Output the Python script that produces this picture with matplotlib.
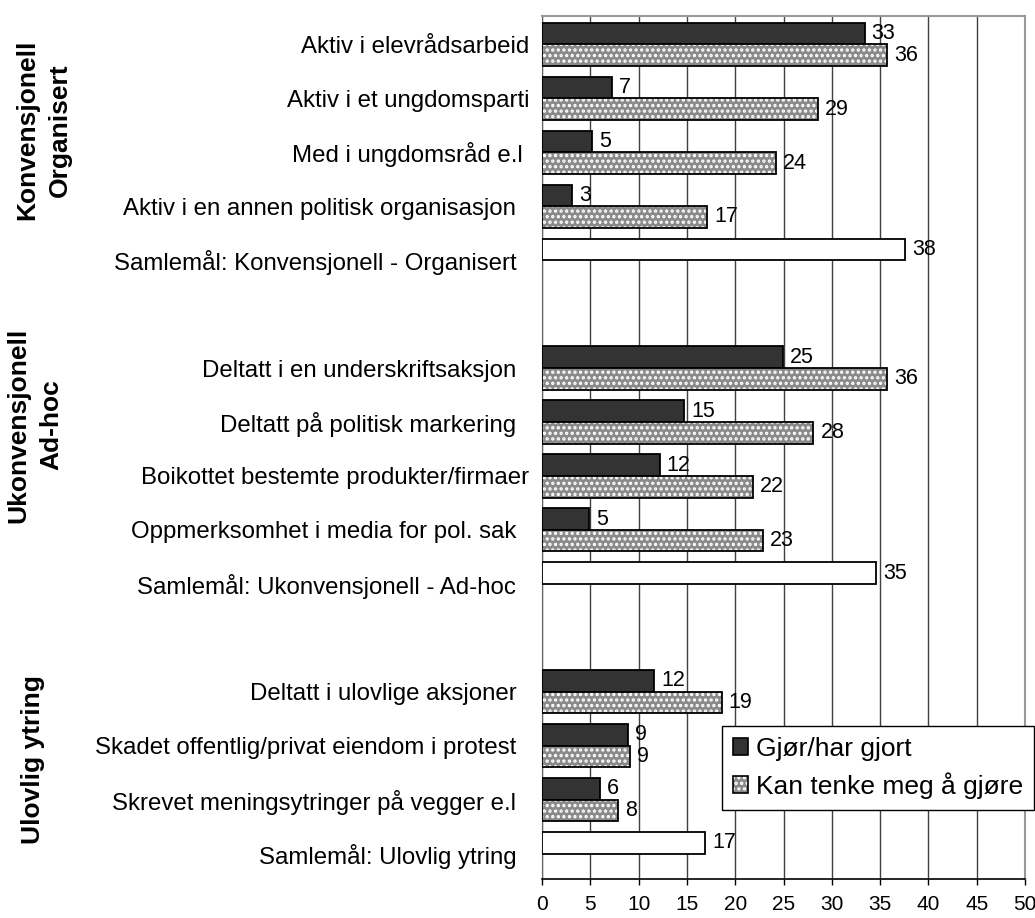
import numpy as np
import matplotlib.pyplot as plt
from matplotlib.patches import Patch
from matplotlib.legend_handler import HandlerTuple

plt.rcParams['font.family'] = ['Liberation Sans', 'DejaVu Sans']
plt.rcParams['hatch.linewidth'] = 1.6

nan = np.nan

# Data (percent), blank rows separate the three groups
categories = [
    "Aktiv i elevrådsarbeid",
    "Aktiv i et ungdomsparti",
    "Med i ungdomsråd e.l ",
    "Aktiv i en annen politisk organisasjon  ",
    "Samlemål: Konvensjonell - Organisert  ",
    "",
    "Deltatt i en underskriftsaksjon  ",
    "Deltatt på politisk markering  ",
    "Boikottet bestemte produkter/firmaer",
    "Oppmerksomhet i media for pol. sak  ",
    "Samlemål: Ukonvensjonell - Ad-hoc  ",
    "",
    "Deltatt i ulovlige aksjoner  ",
    "Skadet offentlig/privat eiendom i protest  ",
    "Skrevet meningsytringer på vegger e.l  ",
    "Samlemål: Ulovlig ytring  ",
]
gjort = [33.4, 7.2, 5.2, 3.1, nan, nan, 24.9, 14.7, 12.2, 4.9, nan, nan, 11.6, 8.9, 6.0, nan]
kan = [35.7, 28.6, 24.2, 17.1, nan, nan, 35.7, 28.1, 21.8, 22.9, nan, nan, 18.6, 9.1, 7.9, nan]
samlemaal = [nan, nan, nan, nan, 37.6, nan, nan, nan, nan, nan, 34.6, nan, nan, nan, nan, 16.9]

series_names = ["Gjør/har gjort", "Kan tenke meg å gjøre"]
group_labels = ["Konvensjonell\nOrganisert", "Ukonvensjonell\nAd-hoc", "Ulovlig ytring"]

dark = '#333333'
grey = '#8a8a8a'

fig = plt.figure(figsize=(10.35, 9.18), dpi=100)
W, H = 1035, 918
ax = fig.add_axes([542 / W, 1 - 879 / H, (1025 - 542) / W, (879 - 16) / H])

rows = np.arange(len(categories))
gjort = np.array(gjort)
kan = np.array(kan)
samlemaal = np.array(samlemaal)
h = 0.4

m1 = ~np.isnan(gjort)
b1 = ax.barh(rows[m1] - h / 2, gjort[m1], height=h, color=dark,
             edgecolor='black', linewidth=1.3, zorder=3)

m2 = ~np.isnan(kan)
ax.barh(rows[m2] + h / 2, kan[m2], height=h, color=grey,
        edgecolor='white', hatch='...', linewidth=0, zorder=3)
b2 = ax.barh(rows[m2] + h / 2, kan[m2], height=h, fill=False,
             edgecolor='black', linewidth=1.3, zorder=4)

m3 = ~np.isnan(samlemaal)
b3 = ax.barh(rows[m3] - h / 2, samlemaal[m3], height=h, color='white',
             edgecolor='black', linewidth=1.3, zorder=3)

for bars, vals in [(b1, gjort[m1]), (b2, kan[m2]), (b3, samlemaal[m3])]:
    ax.bar_label(bars, labels=[f'{v:.0f}' for v in vals], padding=5,
                 fontsize=15.5, zorder=5)

ax.set_xlim(0, 50)
ax.set_xticks(range(0, 51, 5))
ax.set_ylim(15.47, -0.525)
ax.set_yticks(rows)
ax.set_yticklabels(categories, fontsize=17.3)
ax.tick_params(axis='y', length=0, pad=9)
ax.tick_params(axis='x', length=4.3, width=1, labelsize=15, pad=7)

ax.set_axisbelow(True)
ax.grid(axis='x', color='#404040', linewidth=1)
for side in ['top', 'right']:
    ax.spines[side].set_color('#999999')
    ax.spines[side].set_linewidth(1.5)
ax.spines['left'].set_color('#666666')
ax.spines['bottom'].set_color('black')
ax.spines['bottom'].set_linewidth(1.2)

# group labels
fig.text(44 / W, 1 - 130 / H, group_labels[0], rotation=90, ha='center', va='center',
         fontsize=19, fontweight='bold', multialignment='center', linespacing=1.45)
fig.text(35 / W, 1 - 425 / H, group_labels[1], rotation=90, ha='center', va='center',
         fontsize=19, fontweight='bold', multialignment='center', linespacing=1.45)
fig.text(33 / W, 1 - 760 / H, group_labels[2], rotation=90, ha='center', va='center',
         fontsize=19, fontweight='bold')

# legend
h_dark = Patch(facecolor=dark, edgecolor='black', linewidth=1.2)
h_hatch = Patch(facecolor=grey, edgecolor='white', hatch='...', linewidth=0)
h_out = Patch(fill=False, edgecolor='black', linewidth=1.2)
leg = fig.legend([h_dark, (h_hatch, h_out)], series_names,
                 handler_map={tuple: HandlerTuple(ndivide=1)},
                 loc='upper left', bbox_to_anchor=(722 / W, 1 - 726 / H),
                 bbox_transform=fig.transFigure, fontsize=19, fancybox=False,
                 edgecolor='black', framealpha=1, borderpad=0.4,
                 handlelength=0.6, handleheight=0.6, handletextpad=0.3,
                 labelspacing=0.45, borderaxespad=0)
leg.get_frame().set_linewidth(1.0)

fig.savefig('out.png', dpi=100)
